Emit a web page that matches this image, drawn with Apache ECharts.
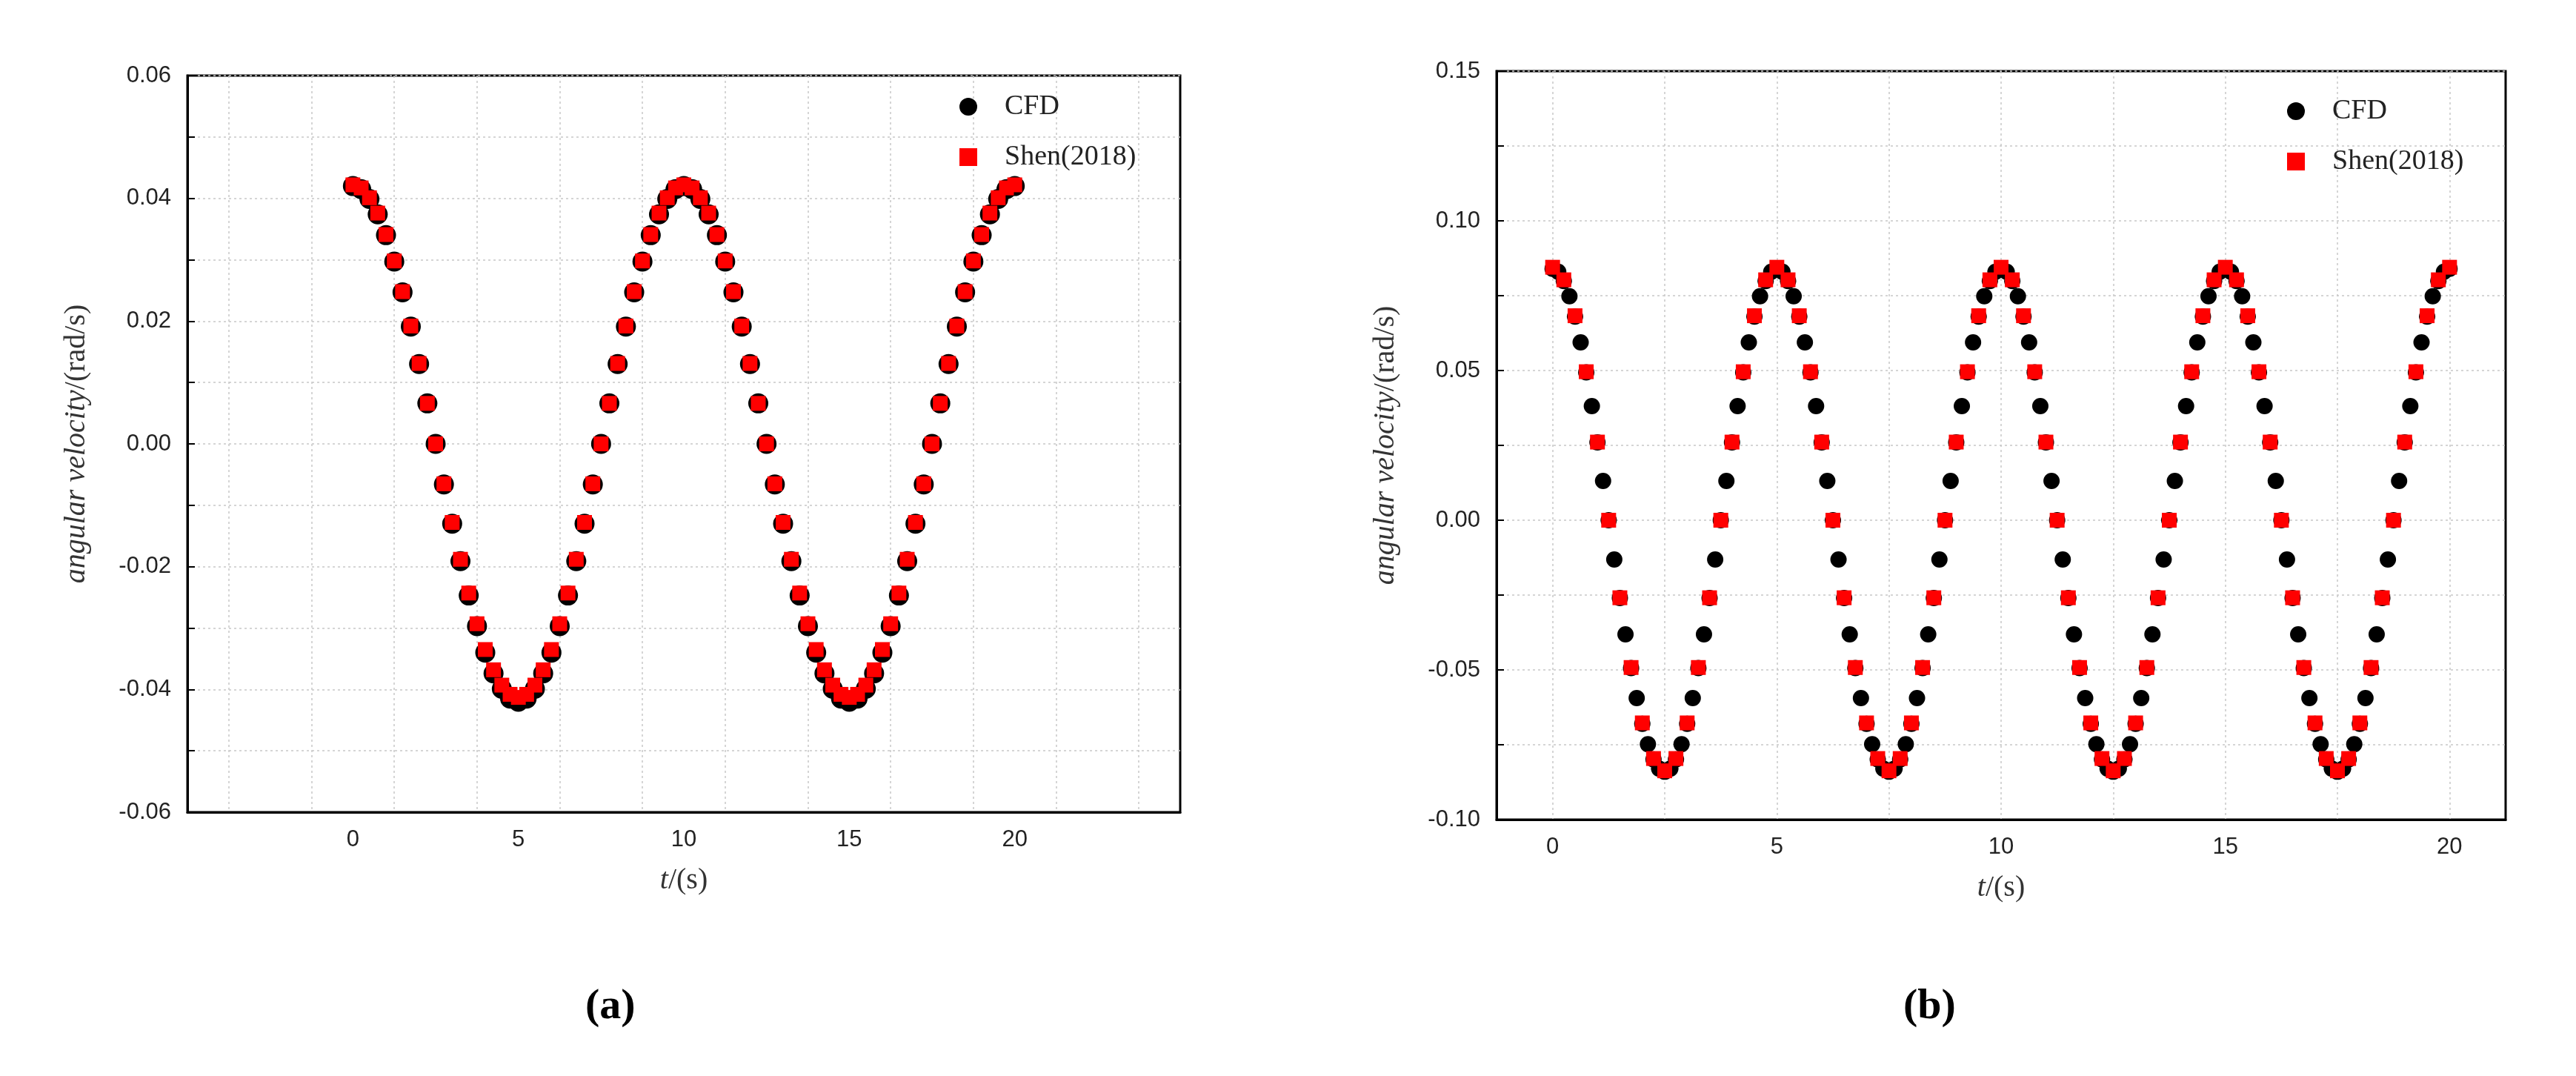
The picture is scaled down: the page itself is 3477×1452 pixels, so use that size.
<!DOCTYPE html>
<html>
<head>
<meta charset="utf-8">
<script src="https://cdn.jsdelivr.net/npm/echarts@6/dist/echarts.min.js"></script>
<style>
  html, body { margin: 0; padding: 0; background: #fff; }
  #chart { width: 3477px; height: 1452px; }
</style>
</head>
<body>
<div id="chart"></div>
<script>
"use strict";

// (a) sampled every 0.25 s, 0..20 s
var leftStep = 0.25;
var leftCfd = [
  0.0420, 0.0415, 0.0399, 0.0374, 0.0340, 0.0297, 0.0247, 0.0191, 0.0130, 0.0066,
  0.0000, -0.0066, -0.0130, -0.0191, -0.0247, -0.0297, -0.0340, -0.0374, -0.0399, -0.0415,
  -0.0420, -0.0415, -0.0399, -0.0374, -0.0340, -0.0297, -0.0247, -0.0191, -0.0130, -0.0066,
  0.0000, 0.0066, 0.0130, 0.0191, 0.0247, 0.0297, 0.0340, 0.0374, 0.0399, 0.0415,
  0.0420, 0.0415, 0.0399, 0.0374, 0.0340, 0.0297, 0.0247, 0.0191, 0.0130, 0.0066,
  0.0000, -0.0066, -0.0130, -0.0191, -0.0247, -0.0297, -0.0340, -0.0374, -0.0399, -0.0415,
  -0.0420, -0.0415, -0.0399, -0.0374, -0.0340, -0.0297, -0.0247, -0.0191, -0.0130, -0.0066,
  0.0000, 0.0066, 0.0130, 0.0191, 0.0247, 0.0297, 0.0340, 0.0374, 0.0399, 0.0415,
  0.0420
];
var leftShen = [
  0.0422, 0.0417, 0.0401, 0.0376, 0.0341, 0.0298, 0.0248, 0.0192, 0.0131, 0.0066,
  0.0000, -0.0065, -0.0128, -0.0188, -0.0243, -0.0293, -0.0335, -0.0368, -0.0393, -0.0408,
  -0.0413, -0.0408, -0.0393, -0.0368, -0.0335, -0.0293, -0.0243, -0.0188, -0.0128, -0.0065,
  0.0000, 0.0066, 0.0131, 0.0192, 0.0248, 0.0298, 0.0341, 0.0376, 0.0401, 0.0417,
  0.0422, 0.0417, 0.0401, 0.0376, 0.0341, 0.0298, 0.0248, 0.0192, 0.0131, 0.0066,
  0.0000, -0.0065, -0.0128, -0.0188, -0.0243, -0.0293, -0.0335, -0.0368, -0.0393, -0.0408,
  -0.0413, -0.0408, -0.0393, -0.0368, -0.0335, -0.0293, -0.0243, -0.0188, -0.0128, -0.0065,
  0.0000, 0.0066, 0.0131, 0.0192, 0.0248, 0.0298, 0.0341, 0.0376, 0.0401, 0.0417,
  0.0422
];

// (b) CFD every 0.125 s, Shen every 0.25 s
var rightCfdStep = 0.125;
var rightCfd = [
  0.0840, 0.0830, 0.0799, 0.0748, 0.0680, 0.0594, 0.0494, 0.0381, 0.0260, 0.0131,
  0.0000, -0.0131, -0.0260, -0.0381, -0.0494, -0.0594, -0.0680, -0.0748, -0.0799, -0.0830,
  -0.0840, -0.0830, -0.0799, -0.0748, -0.0680, -0.0594, -0.0494, -0.0381, -0.0260, -0.0131,
  0.0000, 0.0131, 0.0260, 0.0381, 0.0494, 0.0594, 0.0680, 0.0748, 0.0799, 0.0830,
  0.0840, 0.0830, 0.0799, 0.0748, 0.0680, 0.0594, 0.0494, 0.0381, 0.0260, 0.0131,
  0.0000, -0.0131, -0.0260, -0.0381, -0.0494, -0.0594, -0.0680, -0.0748, -0.0799, -0.0830,
  -0.0840, -0.0830, -0.0799, -0.0748, -0.0680, -0.0594, -0.0494, -0.0381, -0.0260, -0.0131,
  0.0000, 0.0131, 0.0260, 0.0381, 0.0494, 0.0594, 0.0680, 0.0748, 0.0799, 0.0830,
  0.0840, 0.0830, 0.0799, 0.0748, 0.0680, 0.0594, 0.0494, 0.0381, 0.0260, 0.0131,
  0.0000, -0.0131, -0.0260, -0.0381, -0.0494, -0.0594, -0.0680, -0.0748, -0.0799, -0.0830,
  -0.0840, -0.0830, -0.0799, -0.0748, -0.0680, -0.0594, -0.0494, -0.0381, -0.0260, -0.0131,
  0.0000, 0.0131, 0.0260, 0.0381, 0.0494, 0.0594, 0.0680, 0.0748, 0.0799, 0.0830,
  0.0840, 0.0830, 0.0799, 0.0748, 0.0680, 0.0594, 0.0494, 0.0381, 0.0260, 0.0131,
  0.0000, -0.0131, -0.0260, -0.0381, -0.0494, -0.0594, -0.0680, -0.0748, -0.0799, -0.0830,
  -0.0840, -0.0830, -0.0799, -0.0748, -0.0680, -0.0594, -0.0494, -0.0381, -0.0260, -0.0131,
  0.0000, 0.0131, 0.0260, 0.0381, 0.0494, 0.0594, 0.0680, 0.0748, 0.0799, 0.0830,
  0.0840
];
var rightShenStep = 0.25;
var rightShen = [
  0.0845, 0.0803, 0.0683, 0.0496, 0.0261, 0.0000, -0.0259, -0.0492, -0.0677, -0.0796,
  -0.0837, -0.0796, -0.0677, -0.0492, -0.0259, 0.0000, 0.0261, 0.0496, 0.0683, 0.0803,
  0.0845, 0.0803, 0.0683, 0.0496, 0.0261, 0.0000, -0.0259, -0.0492, -0.0677, -0.0796,
  -0.0837, -0.0796, -0.0677, -0.0492, -0.0259, 0.0000, 0.0261, 0.0496, 0.0683, 0.0803,
  0.0845, 0.0803, 0.0683, 0.0496, 0.0261, 0.0000, -0.0259, -0.0492, -0.0677, -0.0796,
  -0.0837, -0.0796, -0.0677, -0.0492, -0.0259, 0.0000, 0.0261, 0.0496, 0.0683, 0.0803,
  0.0845, 0.0803, 0.0683, 0.0496, 0.0261, 0.0000, -0.0259, -0.0492, -0.0677, -0.0796,
  -0.0837, -0.0796, -0.0677, -0.0492, -0.0259, 0.0000, 0.0261, 0.0496, 0.0683, 0.0803,
  0.0845
];

var leftXLabels = [0, 5, 10, 15, 20];
var rightXLabels = [0, 5, 10, 15, 20];

function pairs(values, step) {
    return values.map(function (v, i) { return [i * step, v]; });
}

var serif = "'Liberation Serif', 'DejaVu Serif', serif";
var sans = "'Liberation Sans', Arial, sans-serif";

function xAxisFor(gridIndex, min, max, labels) {
    return {
        gridIndex: gridIndex, type: 'value', min: min, max: max, interval: 1.25,
        name: '{i|t}/(s)', nameLocation: 'middle', nameGap: 72,
        nameTextStyle: { fontFamily: serif, fontSize: 40, color: '#333',
            rich: { i: { fontFamily: serif, fontStyle: 'italic', fontSize: 40, color: '#333' } } },
        axisLine: { onZero: false, lineStyle: { color: '#000', width: 3 } },
        axisTick: { show: false },
        axisLabel: {
            fontFamily: sans, fontSize: 31, color: '#222', margin: 22,
            formatter: function (v) {
                var r = Math.round(v * 100) / 100;
                return labels.indexOf(r) >= 0 ? String(r) : '';
            }
        },
        splitLine: { show: true, lineStyle: { color: ['transparent', '#c8c8c8'], type: [3, 4], width: 1.5 } }
    };
}

function yAxisFor(gridIndex, min, max, interval, labelStep) {
    return {
        gridIndex: gridIndex, type: 'value', min: min, max: max, interval: interval,
        name: '{i|angular velocity}/(rad/s)', nameLocation: 'middle', nameRotate: 90,
        nameGap: 130,
        nameTextStyle: { fontFamily: serif, fontSize: 40, color: '#333',
            rich: { i: { fontFamily: serif, fontStyle: 'italic', fontSize: 40, color: '#333' } } },
        axisLine: { onZero: false, lineStyle: { color: '#000', width: 3 } },
        axisTick: { show: true, inside: true, length: 10, lineStyle: { color: '#000', width: 2 } },
        axisLabel: {
            fontFamily: sans, fontSize: 31, color: '#222', margin: 22,
            formatter: function (v) {
                var k = Math.round(v / labelStep * 1000) / 1000;
                return Math.abs(k - Math.round(k)) < 1e-6 ? v.toFixed(2) : '';
            }
        },
        splitLine: { show: true, lineStyle: { color: '#c8c8c8', type: [3, 4], width: 1.5 } }
    };
}

var legendText = { fontFamily: serif, fontSize: 38, color: '#222', padding: [0, 0, 0, 32] };

var chart = echarts.init(document.getElementById('chart'), null, { renderer: 'canvas' });
chart.setOption({
    backgroundColor: '#fff',
    animation: false,
    title: [
        { text: '(a)', left: 785, top: 1325, textStyle: { fontFamily: serif, fontWeight: 'bold', fontSize: 58, color: '#000' } },
        { text: '(b)', left: 2564, top: 1325, textStyle: { fontFamily: serif, fontWeight: 'bold', fontSize: 58, color: '#000' } }
    ],
    grid: [
        { left: 253, top: 102, width: 1340, height: 994, show: true, borderColor: '#000', borderWidth: 3, backgroundColor: 'transparent' },
        { left: 2020, top: 96, width: 1362, height: 1010, show: true, borderColor: '#000', borderWidth: 3, backgroundColor: 'transparent' }
    ],
    legend: [
        { orient: 'vertical', left: 1290, top: 120, itemGap: 30, itemWidth: 24, itemHeight: 24,
          textStyle: legendText, data: [{ name: 'CFD', icon: 'circle' }, { name: 'Shen(2018)', icon: 'rect' }] },
        { orient: 'vertical', left: 3082, top: 126, itemGap: 30, itemWidth: 24, itemHeight: 24,
          textStyle: legendText, data: [{ name: 'CFD', icon: 'circle' }, { name: 'Shen(2018)', icon: 'rect' }] }
    ],
    xAxis: [
        xAxisFor(0, -5, 25, leftXLabels),
        xAxisFor(1, -1.25, 21.25, rightXLabels)
    ],
    yAxis: [
        yAxisFor(0, -0.06, 0.06, 0.01, 0.02),
        yAxisFor(1, -0.10, 0.15, 0.025, 0.05)
    ],
    series: [
        { name: 'CFD', type: 'scatter', xAxisIndex: 0, yAxisIndex: 0, symbol: 'circle', symbolSize: 27,
          itemStyle: { color: '#000', opacity: 1 }, data: pairs(leftCfd, leftStep) },
        { name: 'Shen(2018)', type: 'scatter', xAxisIndex: 0, yAxisIndex: 0, symbol: 'rect', symbolSize: 20,
          itemStyle: { color: '#ff0000', opacity: 1 }, data: pairs(leftShen, leftStep) },
        { name: 'CFD', type: 'scatter', xAxisIndex: 1, yAxisIndex: 1, symbol: 'circle', symbolSize: 22,
          itemStyle: { color: '#000', opacity: 1 }, data: pairs(rightCfd, rightCfdStep) },
        { name: 'Shen(2018)', type: 'scatter', xAxisIndex: 1, yAxisIndex: 1, symbol: 'rect', symbolSize: 20,
          itemStyle: { color: '#ff0000', opacity: 1 }, data: pairs(rightShen, rightShenStep) }
    ]
});
</script>
</body>
</html>
